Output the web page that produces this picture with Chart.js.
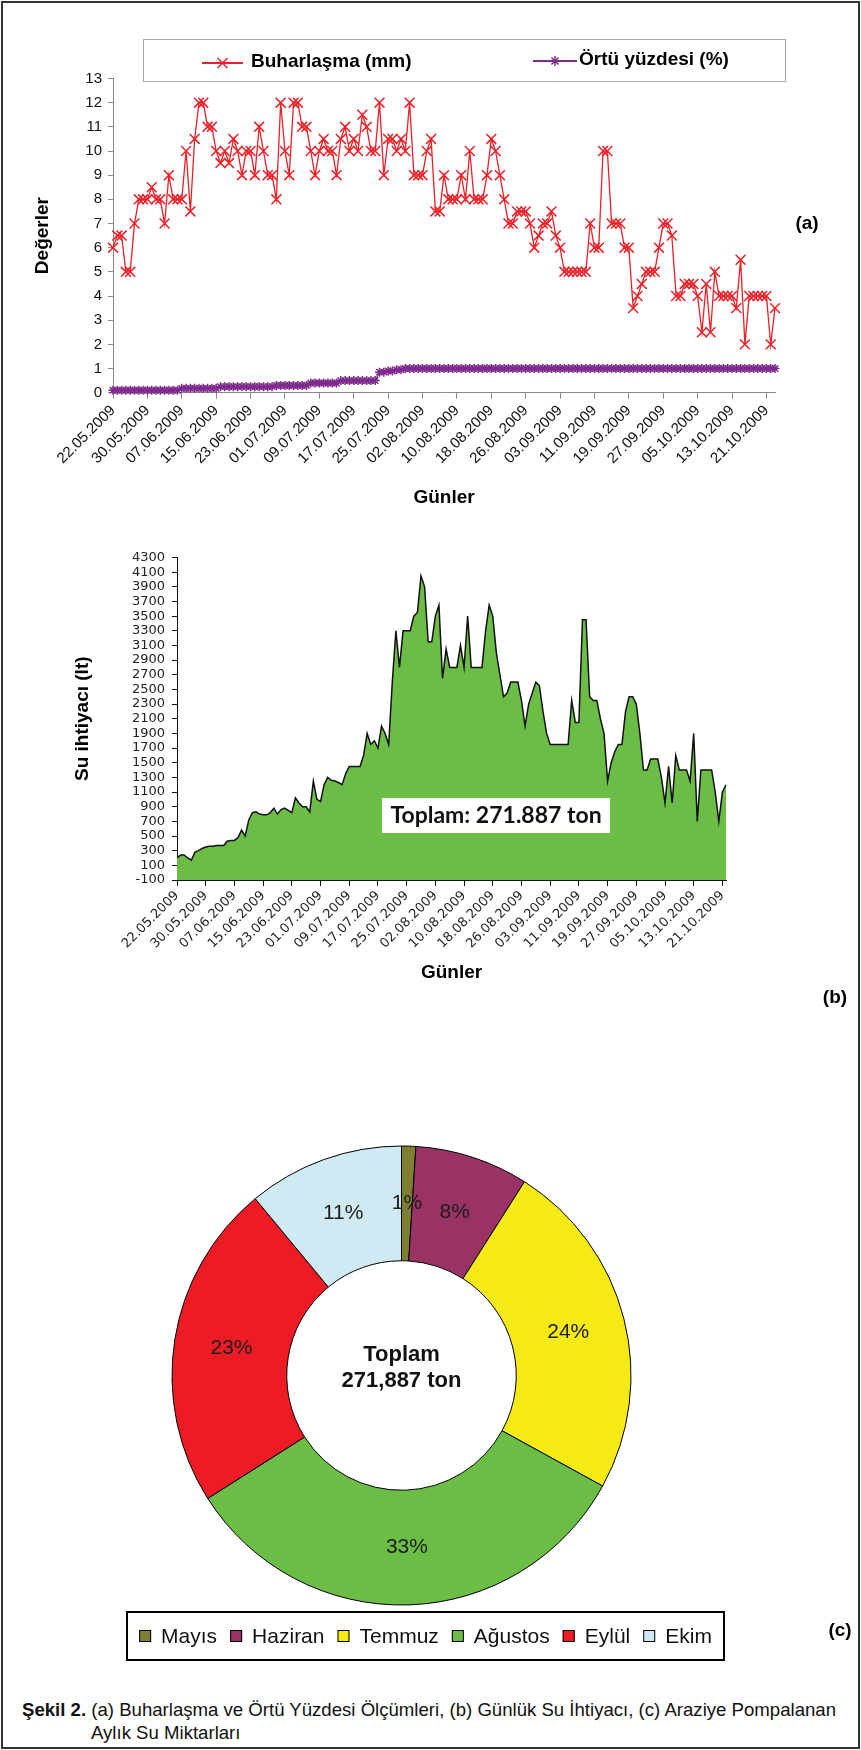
<!DOCTYPE html>
<html lang="tr">
<head>
<meta charset="utf-8">
<title>Şekil 2</title>
<script src="https://cdn.jsdelivr.net/npm/chart.js@4"></script>
<style>
  html, body { margin: 0; padding: 0; background: #fff; }
  #page { position: relative; width: 861px; height: 1750px; background: #fff; font-family: "Liberation Sans", Arial, sans-serif; }
  #frame { position: absolute; left: 1px; top: 1px; width: 859px; height: 1748px; box-sizing: border-box; border: 2px solid #333; }
  canvas { position: absolute; left: 0; }
  .tag { position: absolute; font-weight: bold; font-size: 19px; transform: translate(-50%, -50%); }
  #caption { position: absolute; left: 22px; top: 1698px; font-size: 18.6px; line-height: 23px; white-space: nowrap; padding-left: 69px; text-indent: -69px; color: #111; }
</style>
</head>
<body>
<div id="page">
  <div id="frame"></div>
  <canvas id="chartA" width="861" height="520" style="top:0px"></canvas>
  <canvas id="chartB" width="861" height="480" style="top:520px"></canvas>
  <canvas id="chartC" width="861" height="560" style="top:1130px"></canvas>
  <div class="tag" style="left:807px; top:223px">(a)</div>
  <div class="tag" style="left:835px; top:997px">(b)</div>
  <div class="tag" style="left:840px; top:1630px">(c)</div>
  <div id="caption"><b>Şekil 2.</b> (a) Buharlaşma ve Örtü Yüzdesi Ölçümleri, (b) Günlük Su İhtiyacı, (c) Araziye Pompalanan<br>Aylık Su Miktarları</div>
</div>
<script>
// --- data ---
const startDate = [2009, 4, 22];   // 22.05.2009, one value per day
const tickEvery = 8;               // a date label every 8 days

// (a) evaporation, mm
const buharlasma = [
  6, 6.5, 6.5, 5, 5, 7, 8, 8, 8, 8.5,
  8, 8, 7, 9, 8, 8, 8, 10, 7.5, 10.5,
  12, 12, 11, 11, 10, 9.5, 10, 9.5, 10.5, 10,
  9, 10, 10, 9, 11, 10, 9, 9, 8, 12,
  10, 9, 12, 12, 11, 11, 10, 9, 10, 10.5,
  10, 10, 9, 10.5, 11, 10, 10.5, 10, 11.5, 11,
  10, 10, 12, 9, 10.5, 10.5, 10, 10.5, 10, 12,
  9, 9, 9, 10, 10.5, 7.5, 7.5, 9, 8, 8,
  8, 9, 8, 10, 8, 8, 8, 9, 10.5, 10,
  9, 8, 7, 7, 7.5, 7.5, 7.5, 7, 6, 6.5,
  7, 7, 7.5, 6.5, 6, 5, 5, 5, 5, 5,
  5, 7, 6, 6, 10, 10, 7, 7, 7, 6,
  6, 3.5, 4, 4.5, 5, 5, 5, 6, 7, 7,
  6.5, 4, 4, 4.5, 4.5, 4.5, 4, 2.5, 4.5, 2.5,
  5, 4, 4, 4, 4, 3.5, 5.5, 2, 4, 4,
  4, 4, 4, 2, 3.5
];

// (a) canopy cover
const ortuYuzdesi = [
  0.1, 0.1, 0.1, 0.1, 0.1, 0.1, 0.1, 0.1, 0.1, 0.1,
  0.1, 0.1, 0.1, 0.1, 0.1, 0.1, 0.18, 0.18, 0.18, 0.18,
  0.18, 0.18, 0.18, 0.18, 0.18, 0.25, 0.25, 0.25, 0.25, 0.25,
  0.25, 0.25, 0.25, 0.25, 0.25, 0.25, 0.25, 0.25, 0.3, 0.3,
  0.3, 0.3, 0.3, 0.3, 0.3, 0.3, 0.4, 0.4, 0.4, 0.4,
  0.4, 0.4, 0.4, 0.5, 0.5, 0.5, 0.5, 0.5, 0.5, 0.5,
  0.5, 0.5, 0.85, 0.85, 0.9, 0.9, 0.95, 0.95, 1, 1,
  1, 1, 1, 1, 1, 1, 1, 1, 1, 1,
  1, 1, 1, 1, 1, 1, 1, 1, 1, 1,
  1, 1, 1, 1, 1, 1, 1, 1, 1, 1,
  1, 1, 1, 1, 1, 1, 1, 1, 1, 1,
  1, 1, 1, 1, 1, 1, 1, 1, 1, 1,
  1, 1, 1, 1, 1, 1, 1, 1, 1, 1,
  1, 1, 1, 1, 1, 1, 1, 1, 1, 1,
  1, 1, 1, 1, 1, 1, 1, 1, 1, 1,
  1, 1, 1, 1, 1
];

// (b) daily water need, lt
const suIhtiyaci = [
  200, 240, 240, 200, 170, 280, 300, 330, 350, 360,
  360, 370, 370, 370, 430, 440, 440, 480, 580, 500,
  720, 820, 830, 800, 790, 790, 820, 880, 800, 860,
  880, 850, 820, 1020, 950, 900, 900, 830, 1250, 1000,
  970, 1200, 1300, 1260, 1250, 1230, 1200, 1350, 1450, 1450,
  1450, 1450, 1600, 1900, 1750, 1800, 1700, 2000, 1900, 1750,
  2600, 3300, 2800, 3300, 3300, 3300, 3500, 3550, 4050, 3900,
  3150, 3150, 3500, 3650, 2650, 3050, 2800, 2800, 2800, 3100,
  2800, 3500, 2800, 2800, 2800, 2800, 3300, 3650, 3500, 3000,
  2700, 2400, 2450, 2600, 2600, 2600, 2350, 2000, 2300, 2450,
  2600, 2550, 2200, 1900, 1750, 1750, 1750, 1750, 1750, 1750,
  2350, 2050, 2050, 3450, 3450, 2400, 2350, 2350, 2100, 1900,
  1250, 1500, 1650, 1750, 1750, 2200, 2400, 2400, 2300, 1900,
  1400, 1400, 1550, 1550, 1550, 1300, 950, 1450, 950, 1600,
  1400, 1400, 1400, 1250, 1900, 700, 1400, 1400, 1400, 1400,
  1100, 700, 1100, 1200
];

// (c) monthly share, %
const aylar = ['Mayıs', 'Haziran', 'Temmuz', 'Ağustos', 'Eylül', 'Ekim'];
const aylikPay = [1, 8, 24, 33, 23, 11];
const aylikRenk = ['#7f7f33', '#993366', '#f5ea16', '#6cbd45', '#ed1c24', '#cfeaf2'];

// daily category labels dd.mm.yyyy
function gunEtiketleri(n) {
  const out = [];
  for (let i = 0; i < n; i++) {
    const d = new Date(startDate[0], startDate[1], startDate[2] + i);
    const dd = String(d.getDate()).padStart(2, '0');
    const mm = String(d.getMonth() + 1).padStart(2, '0');
    out.push(dd + '.' + mm + '.' + d.getFullYear());
  }
  return out;
}

const ARIAL = '"Liberation Sans", Arial, sans-serif';
const VERD = '"DejaVu Sans", Verdana, sans-serif';

function everyEighth(scale) {
  scale.ticks = scale.ticks.filter(t => t.value % tickEvery === 0);
}

function drawMarker(ctx, style, x, y, r) {
  const d = r * Math.SQRT1_2;
  ctx.beginPath();
  ctx.moveTo(x - d, y - d); ctx.lineTo(x + d, y + d);
  ctx.moveTo(x - d, y + d); ctx.lineTo(x + d, y - d);
  if (style === 'star') {
    ctx.moveTo(x, y - r); ctx.lineTo(x, y + r);
    ctx.moveTo(x - r, y); ctx.lineTo(x + r, y);
  }
  ctx.stroke();
}

// legend box of chart (a)
const legendA = {
  id: 'legendA',
  afterDraw(chart) {
    const ctx = chart.ctx;
    const spots = [
      { x0: 202, x1: 243, tx: 251, y: 62 },
      { x0: 533, x1: 577, tx: 579, y: 60 }
    ];
    ctx.save();
    ctx.fillStyle = '#fff';
    ctx.fillRect(143, 39, 642, 42);
    ctx.strokeStyle = '#a8a8a8';
    ctx.lineWidth = 1;
    ctx.strokeRect(143.5, 39.5, 642, 42);
    chart.data.datasets.forEach((ds, i) => {
      const s = spots[i];
      ctx.strokeStyle = ds.borderColor;
      ctx.lineWidth = 2;
      ctx.beginPath(); ctx.moveTo(s.x0, s.y + 1); ctx.lineTo(s.x1, s.y + 1); ctx.stroke();
      ctx.lineWidth = 1.5;
      drawMarker(ctx, ds.pointStyle, (s.x0 + s.x1) / 2, s.y + 1, ds.pointStyle === 'star' ? 5 : 7);
      ctx.fillStyle = '#000';
      ctx.font = 'bold 19px ' + ARIAL;
      ctx.textBaseline = 'middle';
      ctx.fillText(ds.label, s.tx, s.y);
    });
    ctx.restore();
  }
};

new Chart(document.getElementById('chartA'), {
  type: 'line',
  data: {
    labels: gunEtiketleri(buharlasma.length),
    datasets: [
      {
        label: 'Buharlaşma (mm)',
        data: buharlasma,
        borderColor: '#ee1f26',
        borderWidth: 1.3,
        pointStyle: 'crossRot',
        pointRadius: 7,
        pointBorderWidth: 1.5,
        pointBorderColor: '#ee1f26',
        tension: 0,
        clip: false
      },
      {
        label: 'Örtü yüzdesi (%)',
        data: ortuYuzdesi,
        borderColor: '#7e2a8c',
        borderWidth: 1.3,
        pointStyle: 'star',
        pointRadius: 4.5,
        pointBorderWidth: 1.5,
        pointBorderColor: '#7e2a8c',
        tension: 0,
        clip: false
      }
    ]
  },
  options: {
    responsive: false,
    animation: false,
    layout: { padding: { top: 78.5, right: 86, bottom: 0, left: 0 } },
    plugins: { legend: { display: false }, tooltip: { enabled: false } },
    scales: {
      x: {
        afterBuildTicks: everyEighth,
        afterFit: s => { s.height = 127.3; },
        grid: { drawOnChartArea: false, color: '#8a8a8a', tickLength: 6 },
        border: { color: '#8a8a8a' },
        ticks: { autoSkip: false, minRotation: 45, maxRotation: 45, padding: 3, color: '#111', font: { family: ARIAL, size: 15 } },
        title: { display: true, text: 'Günler', color: '#000', font: { family: ARIAL, size: 19, weight: 'bold' }, padding: { top: 0, bottom: 10.6 } }
      },
      y: {
        min: 0,
        max: 13,
        afterFit: s => { s.width = 113; },
        grid: { drawOnChartArea: false, color: '#8a8a8a', tickLength: 5 },
        border: { color: '#8a8a8a' },
        ticks: { stepSize: 1, padding: 6, color: '#111', font: { family: ARIAL, size: 15 } },
        title: { display: true, text: 'Değerler', color: '#000', font: { family: ARIAL, size: 19, weight: 'bold' }, padding: { top: 31.6, bottom: 0 } }
      }
    }
  },
  plugins: [legendA]
});

// white total box of chart (b)
const toplamKutusu = {
  id: 'toplamKutusu',
  afterDraw(chart) {
    const ctx = chart.ctx;
    ctx.save();
    ctx.fillStyle = '#fff';
    ctx.fillRect(382, 278, 228, 35);
    ctx.fillStyle = '#111';
    ctx.font = 'bold 23px Lato, "Open Sans", sans-serif';
    ctx.textAlign = 'center';
    ctx.textBaseline = 'middle';
    ctx.fillText('Toplam: 271.887 ton', 496, 296);
    ctx.restore();
  }
};

new Chart(document.getElementById('chartB'), {
  type: 'line',
  data: {
    labels: gunEtiketleri(suIhtiyaci.length),
    datasets: [{
      label: 'Su ihtiyacı (lt)',
      data: suIhtiyaci,
      borderColor: '#111',
      borderWidth: 1.5,
      backgroundColor: '#6cbd45',
      fill: 'start',
      pointRadius: 0,
      tension: 0
    }]
  },
  options: {
    responsive: false,
    animation: false,
    layout: { padding: { top: 37.5, right: 135, bottom: 0, left: 0 } },
    plugins: { legend: { display: false }, tooltip: { enabled: false } },
    scales: {
      x: {
        afterBuildTicks: everyEighth,
        afterFit: s => { s.height = 120; },
        grid: { drawOnChartArea: false, color: '#111', tickLength: 6 },
        border: { color: '#111' },
        ticks: { autoSkip: false, minRotation: 45, maxRotation: 45, padding: 2, color: '#222', font: { family: VERD, size: 13 } },
        title: { display: true, text: 'Günler', color: '#000', font: { family: ARIAL, size: 19, weight: 'bold' }, padding: { top: 0, bottom: 15.6 } }
      },
      y: {
        min: -100,
        max: 4300,
        afterFit: s => { s.width = 177; },
        grid: { drawOnChartArea: false, color: '#111', tickLength: 5 },
        border: { color: '#111' },
        ticks: { stepSize: 200, autoSkip: false, padding: 7, color: '#222', font: { family: VERD, size: 13 }, callback: v => String(v) },
        title: { display: true, text: 'Su ihtiyacı (lt)', color: '#000', font: { family: ARIAL, size: 19, weight: 'bold' }, padding: { top: 71.6, bottom: 0 } }
      }
    }
  },
  plugins: [toplamKutusu]
});

// percent labels, centre text and boxed legend of chart (c)
const pastaYazilari = {
  id: 'pastaYazilari',
  afterDatasetsDraw(chart) {
    const ctx = chart.ctx;
    const meta = chart.getDatasetMeta(0);
    const vals = chart.data.datasets[0].data;
    ctx.save();
    ctx.fillStyle = '#1c1c1c';
    ctx.font = '21px ' + ARIAL;
    ctx.textAlign = 'center';
    ctx.textBaseline = 'middle';
    meta.data.forEach((arc, i) => {
      const p = arc.getCenterPoint();
      ctx.fillText(vals[i] + '%', p.x, p.y);
    });
    const c = meta.data[0];
    ctx.fillStyle = '#111';
    ctx.font = 'bold 22px ' + ARIAL;
    ctx.fillText('Toplam', c.x, c.y - 21);
    ctx.fillText('271,887 ton', c.x, c.y + 5);
    ctx.restore();
  },
  afterDraw(chart) {
    const ctx = chart.ctx;
    const labels = chart.data.labels;
    const colors = chart.data.datasets[0].backgroundColor;
    const box = { x: 127, y: 482, w: 597, h: 48 };
    ctx.save();
    ctx.strokeStyle = '#000';
    ctx.lineWidth = 2;
    ctx.strokeRect(box.x, box.y, box.w, box.h);
    ctx.font = '21px ' + ARIAL;
    ctx.textBaseline = 'middle';
    const sq = 12, gap1 = 10, gap2 = 13;
    const widths = labels.map(l => ctx.measureText(l).width);
    const total = widths.reduce((a, w) => a + sq + gap1 + w + gap2, 0) - gap2;
    let x = 425.5 - total / 2;
    const yc = box.y + box.h / 2;
    labels.forEach((l, i) => {
      ctx.fillStyle = colors[i];
      ctx.fillRect(x, yc - sq / 2, sq, sq);
      ctx.strokeStyle = '#000';
      ctx.lineWidth = 1;
      ctx.strokeRect(x + 0.5, yc - sq / 2 + 0.5, sq - 1, sq - 1);
      ctx.fillStyle = '#111';
      ctx.fillText(l, x + sq + gap1, yc + 1);
      x += sq + gap1 + widths[i] + gap2;
    });
    ctx.restore();
  }
};

new Chart(document.getElementById('chartC'), {
  type: 'doughnut',
  data: {
    labels: aylar,
    datasets: [{
      data: aylikPay,
      backgroundColor: aylikRenk,
      borderColor: '#000',
      borderWidth: 1
    }]
  },
  options: {
    responsive: false,
    animation: false,
    cutout: '50%',
    layout: { padding: { top: 15.5, left: 171.5, right: 229.5, bottom: 84.5 } },
    plugins: { legend: { display: false }, tooltip: { enabled: false } }
  },
  plugins: [pastaYazilari]
});
</script>
</body>
</html>
